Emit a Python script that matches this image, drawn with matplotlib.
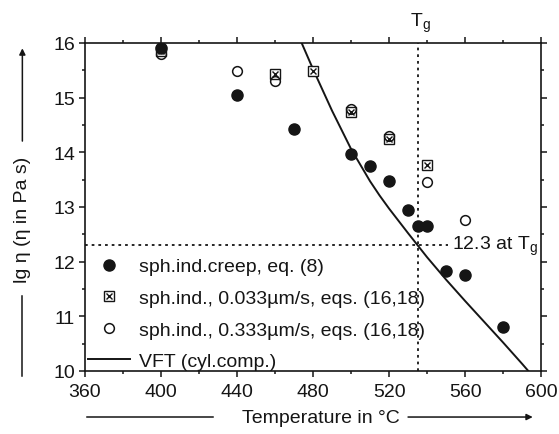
import matplotlib
matplotlib.use("Agg")
import matplotlib.pyplot as plt
from matplotlib.ticker import MultipleLocator

plt.rcParams['font.family'] = ['Liberation Sans', 'DejaVu Sans']
plt.rcParams['mathtext.default'] = 'regular'
plt.rcParams['font.size'] = 14

INK = '#151515'

# ===== 数据 =====
# 球压痕蠕变, eq. (8)
creep_T = [400, 440, 470, 500, 510, 520, 530, 535, 540, 550, 560, 580]
creep_lg = [15.90, 15.04, 14.43, 13.97, 13.74, 13.47, 12.95, 12.66, 12.66, 11.82, 11.75, 10.80]

# 球压痕 0.033 µm/s, eqs. (16,18)
slow_T = [400, 460, 480, 500, 520, 540]
slow_lg = [15.85, 15.43, 15.49, 14.74, 14.25, 13.76]

# 球压痕 0.333 µm/s, eqs. (16,18)
fast_T = [400, 440, 460, 500, 520, 540, 560]
fast_lg = [15.80, 15.49, 15.30, 14.79, 14.30, 13.45, 12.77]

# VFT 曲线 (圆柱压缩)
vft_T = [474, 480, 490, 500, 510, 515, 520, 530, 535, 540, 550, 560, 570, 580, 590, 595]
vft_lg = [16.00, 15.52, 14.76, 14.06, 13.47, 13.21, 12.97, 12.52, 12.30, 12.08, 11.67, 11.28, 10.90, 10.52, 10.13, 9.93]

Tg = 535
lg_at_Tg = 12.3

# ===== 画图 =====
fig = plt.figure(figsize=(5.59, 4.35), dpi=100)
ax = fig.add_axes([0.152, 0.145, 0.816, 0.754])

ax.axvline(Tg, color=INK, lw=1.3, ls=(0, (1.5, 2.2)), zorder=1)
ax.plot([360, 551], [lg_at_Tg, lg_at_Tg], color=INK, lw=1.3, ls=(0, (1.5, 2.2)), zorder=1)

vft, = ax.plot(vft_T, vft_lg, color=INK, lw=1.4, zorder=2)

sq, = ax.plot(slow_T, slow_lg, 's', ms=6.5, mfc='white', mec=INK, mew=1.0, zorder=3)
sqx, = ax.plot(slow_T, slow_lg, 'x', ms=4.5, mec=INK, mew=1.0, zorder=4)
oc, = ax.plot(fast_T, fast_lg, 'o', ms=7, mfc='none', mec=INK, mew=1.1, zorder=4)
fc, = ax.plot(creep_T, creep_lg, 'o', ms=8, mfc=INK, mec=INK, zorder=5)

ax.set_xlim(360, 600)
ax.set_ylim(10, 16)
ax.xaxis.set_major_locator(MultipleLocator(40))
ax.xaxis.set_minor_locator(MultipleLocator(20))
ax.yaxis.set_major_locator(MultipleLocator(1))
ax.yaxis.set_minor_locator(MultipleLocator(0.5))
ax.tick_params(which='both', direction='out', top=True, right=True,
               color=INK, width=1.1, labelcolor=INK, labelsize=14, pad=3)
ax.tick_params(axis='x', pad=5)
ax.tick_params(which='major', length=4)
ax.tick_params(which='minor', length=2.5)
ax.tick_params(labeltop=False, labelright=False)
for s in ax.spines.values():
    s.set_linewidth(1.2)
    s.set_color(INK)

ax.text(536.5, 16.16, 'T$_g$', ha='center', va='bottom', color=INK, fontsize=14, clip_on=False)
ax.text(553, lg_at_Tg, '12.3 at T$_g$', ha='left', va='center', color=INK, fontsize=14)

ax.legend([fc, (sq, sqx), oc, vft],
          ['sph.ind.creep, eq. (8)',
           'sph.ind., 0.033µm/s, eqs. (16,18)',
           'sph.ind., 0.333µm/s, eqs. (16,18)',
           'VFT (cyl.comp.)'],
          loc='lower left', bbox_to_anchor=(0.006, 0.002), borderaxespad=0, borderpad=0,
          frameon=False, numpoints=1, handlelength=2.2, handletextpad=0.45,
          labelspacing=0.72, fontsize=14, labelcolor=INK)

# 坐标轴标题和箭头
fig.text(0.04, 0.494, 'lg η (η in Pa s)', rotation=90, ha='center', va='center',
         color=INK, fontsize=14)
fig.add_artist(plt.Line2D([0.04, 0.04], [0.133, 0.317], color=INK, lw=1.1))
ax.annotate('', xy=(0.04, 0.893), xytext=(0.04, 0.667), xycoords='figure fraction',
            arrowprops=dict(arrowstyle='-|>', color=INK, lw=1.1, mutation_scale=9))

fig.text(0.574, 0.039, 'Temperature in °C', ha='center', va='center', color=INK, fontsize=14)
fig.add_artist(plt.Line2D([0.156, 0.381], [0.039, 0.039], color=INK, lw=1.1))
ax.annotate('', xy=(0.958, 0.039), xytext=(0.725, 0.039), xycoords='figure fraction',
            arrowprops=dict(arrowstyle='-|>', color=INK, lw=1.1, mutation_scale=9))

plt.savefig('out.png', dpi=100)
